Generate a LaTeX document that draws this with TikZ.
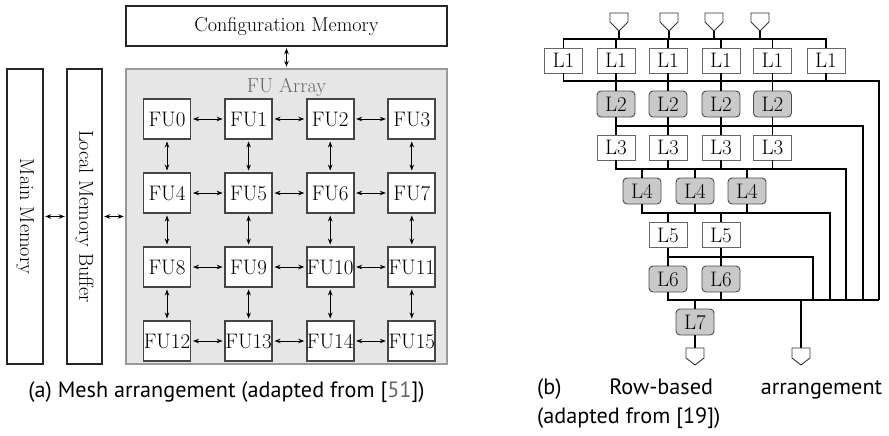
\documentclass[tikz,border=0pt]{standalone}
\usepackage{fontspec}
\newfontfamily\capfont{PT Sans}
\usetikzlibrary{arrows.meta}
\definecolor{arraybg}{HTML}{E6E6E6}
\definecolor{arrayln}{HTML}{9A9A9A}
\definecolor{fuln}{HTML}{454545}
\definecolor{lgray}{HTML}{C9C9C9}
\definecolor{refgray}{HTML}{666666}
\begin{document}
\begin{tikzpicture}[x=1pt,y=-1pt,
  memstyle/.style={draw=black!85, line width=1.4pt, fill=white, inner sep=0pt,
    font=\fontsize{20.2}{22}\selectfont},
  fustyle/.style={draw=fuln, line width=1.9pt, fill=white, minimum width=47pt,
    minimum height=40pt, inner sep=0pt, font=\fontsize{21}{22}\selectfont},
  dbl/.style={line width=0.9pt, {Stealth[length=6pt,width=4.5pt]}-{Stealth[length=6pt,width=4.5pt]},
    shorten <=1.5pt, shorten >=1.5pt},
  wbox/.style={draw=black!60, line width=0.9pt, fill=white, minimum width=38pt,
    minimum height=25pt, inner sep=0pt, font=\fontsize{21}{22}\selectfont},
  gbox/.style={wbox, fill=lgray, draw=black!70, minimum height=26pt, rounded corners=4pt},
  bus/.style={line width=1.3pt, black},
  pent/.style={draw=black!80, line width=0.9pt, fill=white}
]
\useasboundingbox (0,0) rectangle (889,436);

% ---------- (a) mesh ----------
\node[memstyle, minimum width=321pt, minimum height=40pt] (cm) at (286.5,26) {Configuration Memory};
\node[draw=arrayln, line width=1.5pt, fill=arraybg, minimum width=321pt, minimum height=295pt, inner sep=0pt] (fa) at (286.5,216.5) {};
\node[text=black!60, font=\fontsize{20.2}{22}\selectfont] (fal) at (286.5,87) {FU Array};
\node[memstyle, rotate=-90, minimum width=295pt, minimum height=36pt] (mm) at (25,216.5) {Main Memory};
\node[memstyle, rotate=-90, minimum width=295pt, minimum height=35pt] (lmb) at (84.5,216.5) {Local Memory Buffer};

\foreach \i in {0,...,15}{
  \pgfmathsetmacro{\cx}{167+81.6*mod(\i,4)}
  \pgfmathsetmacro{\cy}{119+74*floor(\i/4)}
  \node[fustyle] (fu\i) at (\cx,\cy) {FU\i};
}
\foreach \i in {0,...,15}{
  \pgfmathtruncatemacro{\c}{mod(\i,4)}
  \pgfmathtruncatemacro{\r}{\i+1}
  \pgfmathtruncatemacro{\d}{\i+4}
  \ifnum\c<3 \draw[dbl] (fu\i.east) -- (fu\r.west); \fi
  \ifnum\i<12 \draw[dbl] (fu\i.south) -- (fu\d.north); \fi
}
\draw[dbl] (cm.south) -- (fa.north);
\draw[dbl] (mm.north) -- (lmb.south);
\draw[dbl] (lmb.north) -- (fa.west);

\node[anchor=base, inner sep=0pt, font=\capfont\fontsize{22.2}{26}\selectfont] (capa) at (226.5,397)
  {(a) Mesh arrangement (adapted from [\textcolor{refgray}{51}])};

% ---------- (b) row-based ----------
\foreach \n/\x in {1/563.5,2/616,3/668,4/721,5/772.5,6/826}{
  \node[wbox] (a\n) at (\x,60.5) {L1};
}
\foreach \n/\x in {1/616,2/668,3/721,4/772.5}{
  \node[gbox] (b\n) at (\x,104) {L2};
  \node[wbox] (c\n) at (\x,147.5) {L3};
}
\foreach \n/\x in {1/642,2/695,3/747}{
  \node[gbox] (d\n) at (\x,191) {L4};
}
\foreach \n/\x in {1/668,2/721}{
  \node[wbox] (e\n) at (\x,235) {L5};
  \node[gbox] (f\n) at (\x,279) {L6};
}
\node[gbox] (g1) at (695,322) {L7};

% bus coordinates
\coordinate (y0) at (0,39);
\coordinate (r1) at (879,81);
\coordinate (r2) at (863,126);
\coordinate (r3) at (846,169);
\coordinate (r4) at (830,213);
\coordinate (r5) at (813,257);
\coordinate (r6) at (879,300);

% input pentagons
\foreach \n/\x in {1/619,2/669,3/714,4/760}{
  \coordinate (in\n) at (\x,31);
  \draw[pent] (in\n) -- ++(9,-9) -- ++(0,-9) -- ++(-18,0) -- ++(0,9) -- cycle;
  \draw[bus] (in\n) -- (in\n |- y0);
}
% top bus
\draw[bus] (a1.north) |- (y0 -| a6.north) -- (a6.north);
\foreach \n in {2,...,5}{ \draw[bus] (a\n.north) -- (a\n.north |- y0); }
% L1 -> L2
\draw[bus] (a1.south) |- (r1) -- (r1 |- r6);
\foreach \n in {1,...,4}{ \pgfmathtruncatemacro{\m}{\n+1} \draw[bus] (a\m.south) -- (b\n.north); }
\draw[bus] (a6.south) -- (a6.south |- r1);
% L2 -> L3
\draw[bus] (b1.south) |- (r2) -- (r2 |- r6);
\foreach \n in {1,...,4}{ \draw[bus] (b\n.south) -- (c\n.north); }
% L3 -> L4
\draw[bus] (c1.south) |- (r3) -- (r3 |- r6);
\foreach \n in {2,...,4}{ \draw[bus] (c\n.south) -- (c\n.south |- r3); }
\foreach \n in {1,...,3}{ \draw[bus] (d\n.north) -- (d\n.north |- r3); }
% L4 -> L5
\draw[bus] (d1.south) |- (r4) -- (r4 |- r6);
\foreach \n in {2,3}{ \draw[bus] (d\n.south) -- (d\n.south |- r4); }
\foreach \n in {1,2}{ \draw[bus] (e\n.north) -- (e\n.north |- r4); }
% L5 -> L6
\draw[bus] (e1.south) |- (r5) -- (r5 |- r6);
\foreach \n in {1,2}{ \draw[bus] (e\n.south) -- (f\n.north); }
% L6 -> L7
\draw[bus] (f1.south) |- (r6);
\draw[bus] (f2.south) -- (f2.south |- r6);
\draw[bus] (g1.north) -- (g1.north |- r6);
% outputs
\coordinate (out1) at (695,348);
\coordinate (out2) at (801,348);
\draw[bus] (g1.south) -- (out1);
\draw[bus] (out2 |- r6) -- (out2);
\foreach \o in {out1,out2}{
  \draw[pent] (\o) -- ++(9,0) -- ++(0,10) -- ++(-9,7) -- ++(-9,-7) -- ++(0,-10) -- cycle;
}

\node[anchor=north west, inner sep=0pt, text width=345pt, align=justify,
  font=\capfont\fontsize{22.2}{29}\selectfont] (capb) at (537,378)
  {(b) Row-based arrangement\linebreak (adapted from [19])};
\end{tikzpicture}
\end{document}
